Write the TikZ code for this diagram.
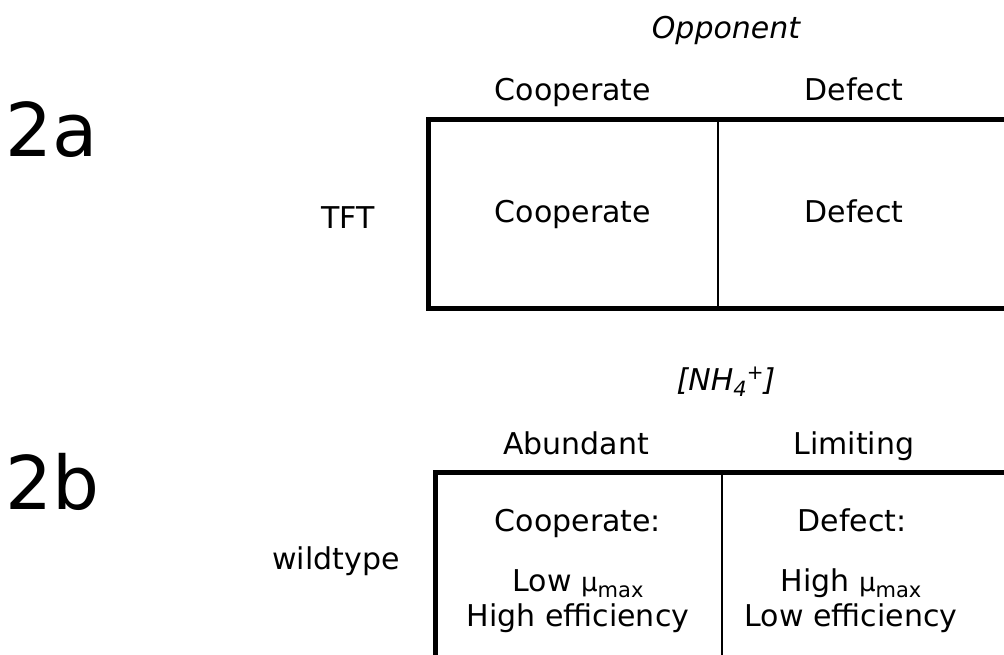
\documentclass[tikz,border=0pt]{standalone}
\usepackage{fontspec}
\setmainfont{DejaVu Sans}
\newcommand{\sub}[1]{\raisebox{-6pt}{\fontsize{21}{21}\selectfont #1}}
\newcommand{\supr}[1]{\raisebox{11pt}{\fontsize{20}{20}\selectfont #1}}
\newcommand{\mmu}{{\fontsize{26}{26}\selectfont μ}}
\begin{document}
\begin{tikzpicture}[x=1pt,y=-1pt,
  txt/.style={font=\fontsize{30}{36}\selectfont, anchor=base, inner sep=0pt},
  big/.style={font=\fontsize{74}{80}\selectfont, anchor=base west, inner sep=0pt},
  frame/.style={line width=5pt},
  divider/.style={line width=1.5pt}]
\useasboundingbox (0,0) rectangle (1004,655);
% ---- 2a ----
\node[big] (lab2a) at (5,157) {2a};
\node[txt] (opp) at (726,39) {\itshape Opponent};
\node[txt] (hc1) at (573,101) {Cooperate};
\node[txt] (hd1) at (854,101) {Defect};
\coordinate (a1) at (428.5,119.5);
\coordinate (a2) at (1012,308.5);
\coordinate (am1) at (718,119.5);
\coordinate (am2) at (718,308.5);
\draw[frame] (a1) rectangle (a2);
\draw[divider] (am1) -- (am2);
\node[txt] (tft) at (348,229) {TFT};
\node[txt] (c1) at (573,223) {Cooperate};
\node[txt] (d1) at (854,223) {Defect};
% ---- 2b ----
\node[txt] (nh) at (726,390) {\itshape [NH\sub{4}\supr{+}]};
\node[big] (lab2b) at (5,509) {2b};
\node[txt] (hc2) at (576,454) {Abundant};
\node[txt] (hd2) at (854,454) {Limiting};
\coordinate (b1) at (435,472);
\coordinate (b2) at (1012,680);
\coordinate (bm1) at (722,472);
\coordinate (bm2) at (722,680);
\draw[frame] (b1) rectangle (b2);
\draw[divider] (bm1) -- (bm2);
\node[txt] (wt) at (336,569) {wildtype};
\node[txt] (c2) at (578,531) {Cooperate:};
\node[txt] (d2) at (852,531) {Defect:};
\node[txt] (c2a) at (578,591) {Low \mmu\sub{max}};
\node[txt] (c2b) at (578,626) {High efficiency};
\node[txt] (d2a) at (851,591) {High \mmu\sub{max}};
\node[txt] (d2b) at (851,626) {Low efficiency};
\end{tikzpicture}
\end{document}
